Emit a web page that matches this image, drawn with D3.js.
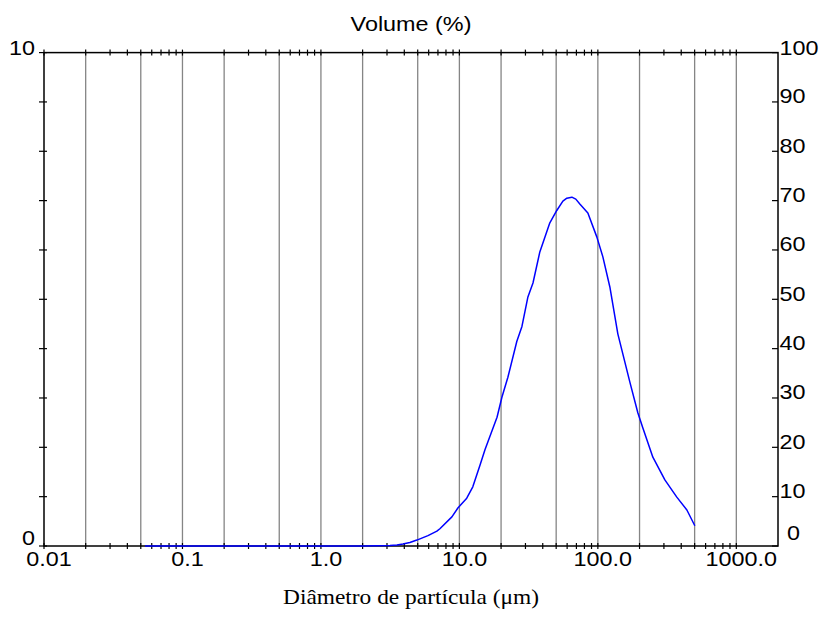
<!DOCTYPE html>
<html>
<head>
<meta charset="utf-8">
<script src="https://cdn.jsdelivr.net/npm/d3@7"></script>
<style>
  html, body { margin: 0; padding: 0; background: #fff; }
  svg { display: block; }
</style>
</head>
<body>
<svg id="chart" width="820" height="634"></svg>
<script>
// ---- data ----
const sizes = [0.0536, 0.1, 0.3, 1, 2, 3.15, 3.54, 3.91, 4.39, 4.93, 5.93, 6.88, 7.23, 8.83, 9.75,
  11.3, 12.5, 14.1, 15.3, 18.7, 20.3, 22.4, 26.0, 28.3, 31.2, 34.0, 38.1, 45.0, 50.5, 55.9, 59.7,
  64.9, 69.3, 74.1, 84.7, 98.4, 108.7, 122.1, 139.4, 170.3, 194.4, 211.4, 249.6, 304.8, 371.7,
  439.5, 501.6];
const volumes = [0, 0, 0, 0, 0, 0.01, 0.02, 0.04, 0.07, 0.12, 0.21, 0.30, 0.35, 0.59, 0.77,
  0.97, 1.20, 1.64, 1.95, 2.61, 3.02, 3.42, 4.15, 4.45, 5.04, 5.33, 5.96, 6.55, 6.80, 6.99, 7.05,
  7.07, 7.03, 6.93, 6.75, 6.26, 5.86, 5.25, 4.30, 3.32, 2.70, 2.39, 1.80, 1.34, 0.99,
  0.73, 0.41];
const xDomain = [0.01, 2000];
const xLabelValues = [0.01, 0.1, 1, 10, 100, 1000];
const xLabelTexts = ["0.01", "0.1", "1.0", "10.0", "100.0", "1000.0"];
const gridValues = [0.02, 0.05, 0.1, 0.2, 0.5, 1, 2, 5, 10, 20, 50, 100, 200, 500, 1000];
const decades = [0.01, 0.1, 1, 10, 100];
const multipliers = [1, 2, 3, 4, 5, 6, 7, 8, 9, 10];
const leftTicks = [0, 1, 2, 3, 4, 5, 6, 7, 8, 9, 10];
const leftLabels = [0, 10];
const rightTicks = [0, 10, 20, 30, 40, 50, 60, 70, 80, 90, 100];
const titleText = "Volume (%)";
const xTitleText = "Diâmetro de partícula (μm)";

// ---- layout ----
const L = 44, R = 778, T = 52.6, B = 546;
const svg = d3.select("#chart");
const x = d3.scaleLog().domain(xDomain).range([L, R]);
const yL = d3.scaleLinear().domain([0, 10]).range([B, T]);
const yR = d3.scaleLinear().domain([0, 100]).range([B, T]);
const SX = 1.17;
const sans = "'Liberation Sans', Arial, sans-serif";

function txt(str, px, py, anchor, family, size) {
  svg.append("text")
    .attr("transform", `translate(${px},${py}) scale(${SX},1)`)
    .attr("text-anchor", anchor)
    .attr("font-family", family)
    .attr("font-size", size)
    .attr("fill", "#000")
    .text(str);
}

// gridlines
svg.append("g").selectAll("line").data(gridValues).join("line")
  .attr("x1", d => x(d)).attr("x2", d => x(d))
  .attr("y1", T).attr("y2", B)
  .attr("stroke", "#858585").attr("stroke-width", 1.3);

// minor/major x ticks on top and bottom (crossing the axis)
const xTicks = [];
decades.forEach(d => multipliers.forEach(m => xTicks.push(+(d * m).toPrecision(6))));
const uniqTicks = Array.from(new Set(xTicks));
[T, B].forEach(yy => {
  svg.append("g").selectAll("line").data(uniqTicks).join("line")
    .attr("x1", d => x(d)).attr("x2", d => x(d))
    .attr("y1", yy - 3).attr("y2", yy + 3)
    .attr("stroke", "#000").attr("stroke-width", 1.2);
});

// left ticks
svg.append("g").selectAll("line").data(leftTicks).join("line")
  .attr("x1", L - 5).attr("x2", L + 3)
  .attr("y1", d => yL(d)).attr("y2", d => yL(d))
  .attr("stroke", "#000").attr("stroke-width", 1.2);

// right ticks (inside)
svg.append("g").selectAll("line").data(rightTicks).join("line")
  .attr("x1", R - 6).attr("x2", R)
  .attr("y1", d => yR(d)).attr("y2", d => yR(d))
  .attr("stroke", "#000").attr("stroke-width", 1.2);

// frame
svg.append("rect").attr("x", L).attr("y", T).attr("width", R - L).attr("height", B - T)
  .attr("fill", "none").attr("stroke", "#000").attr("stroke-width", 1.5);

// curve
const line = d3.line().x(d => x(d[0])).y(d => yL(d[1]));
svg.append("path")
  .datum(sizes.map((s, i) => [s, volumes[i]]))
  .attr("d", line)
  .attr("fill", "none")
  .attr("stroke", "#0000ff")
  .attr("stroke-width", 1.5)
  .attr("stroke-linejoin", "round");

// x tick labels
xLabelValues.forEach((v, i) => txt(xLabelTexts[i], x(v) + 5, 565.5, "middle", sans, "20px"));

// left labels
leftLabels.forEach(v => txt(String(v), 35, v === 10 ? yL(v) + 2.5 : yL(v) - 1, "end", sans, "20px"));

// right labels
rightTicks.forEach(v => {
  if (v === 0) txt("0", 787, yR(v) - 6, "start", sans, "20px");
  else txt(String(v), 779.5, yR(v) + (v === 100 ? 2.5 : 1.5), "start", sans, "20px");
});

// title
txt(titleText, (L + R) / 2, 31, "middle", sans, "20px");

// x axis title
txt(xTitleText, (L + R) / 2, 604, "middle", "'Liberation Serif', 'Times New Roman', serif", "20px");
</script>
</body>
</html>
